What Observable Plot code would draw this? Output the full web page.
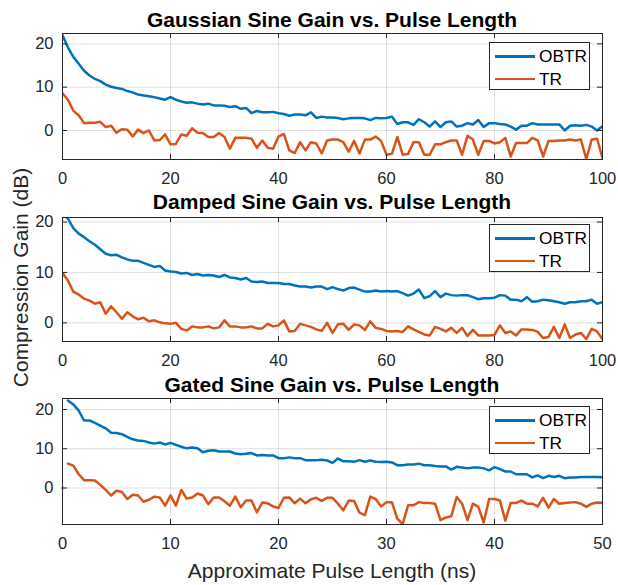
<!DOCTYPE html>
<html><head><meta charset="utf-8">
<script src="https://cdn.jsdelivr.net/npm/d3@7"></script>
<script src="https://cdn.jsdelivr.net/npm/@observablehq/plot@0.6"></script>
<style>
body{margin:0;background:#fff;font-family:"Liberation Sans",Arial,sans-serif;}
#chart{position:relative;width:618px;height:585px;overflow:hidden;background:#fff;}
#chart svg{position:absolute;left:0;}
.title{position:absolute;left:62px;width:540px;text-align:center;font-weight:bold;font-size:21px;line-height:21px;color:#000;white-space:nowrap;}
.axlabel{position:absolute;font-size:21px;line-height:21px;color:#262626;white-space:nowrap;text-align:center;}
.legend{position:absolute;background:#fff;border:1px solid #262626;box-sizing:border-box;}
.legend .swatch{position:absolute;left:5px;width:40px;height:2.5px;}
.legend .lab{position:absolute;left:49px;font-size:17.3px;line-height:17px;color:#000;white-space:nowrap;}
</style></head>
<body><div id="chart"></div>
<script>
// ---- data ----
const seriesNames = ["OBTR", "TR"];
const seriesColors = ["#0072BD", "#D95319"];
const panelTitles = ["Gaussian Sine Gain vs. Pulse Length", "Damped Sine Gain vs. Pulse Length", "Gated Sine Gain vs. Pulse Length"];
const xLabel = "Approximate Pulse Length (ns)";
const yLabel = "Compression Gain (dB)";
const xTicksLong = [0, 20, 40, 60, 80, 100];
const xTicksShort = [0, 10, 20, 30, 40, 50];
const yTicks = [0, 10, 20];

const pulseLenLong = [0,1,2,3,4,5,6,7,8,9,10,11,12,13,14,15,16,17,18,19,20,21,22,23,24,25,26,27,28,29,30,31,32,33,34,35,36,37,38,39,40,41,42,43,44,45,46,47,48,49,50,51,52,53,54,55,56,57,58,59,60,61,62,63,64,65,66,67,68,69,70,71,72,73,74,75,76,77,78,79,80,81,82,83,84,85,86,87,88,89,90,91,92,93,94,95,96,97,98,99,100];
const pulseLenShort = [0.5,1,1.5,2,2.5,3,3.5,4,4.5,5,5.5,6,6.5,7,7.5,8,8.5,9,9.5,10,10.5,11,11.5,12,12.5,13,13.5,14,14.5,15,15.5,16,16.5,17,17.5,18,18.5,19,19.5,20,20.5,21,21.5,22,22.5,23,23.5,24,24.5,25,25.5,26,26.5,27,27.5,28,28.5,29,29.5,30,30.5,31,31.5,32,32.5,33,33.5,34,34.5,35,35.5,36,36.5,37,37.5,38,38.5,39,39.5,40,40.5,41,41.5,42,42.5,43,43.5,44,44.5,45,45.5,46,46.5,47,47.5,48,48.5,49,49.5,50];

const gaussOBTR = [22.0,19.2,17.0,15.4,13.8,12.7,11.9,11.4,10.6,10.1,
9.8,9.6,9.1,8.8,8.3,8.1,7.9,7.7,7.4,7.1,
7.7,7.1,6.7,6.4,6.5,6.2,6.0,6.2,5.8,5.8,
5.7,5.4,5.6,5.0,5.2,4.0,4.5,4.2,4.2,4.3,
4.0,3.8,3.4,3.7,3.7,3.5,4.2,2.9,3.2,3.0,
3.0,2.9,2.6,2.8,2.9,2.9,2.8,2.4,2.9,2.8,
2.9,3.2,1.5,1.9,1.9,1.3,2.6,1.9,0.9,2.1,
0.8,1.9,2.1,0.9,1.1,1.7,1.4,2.4,0.8,1.7,
1.7,1.5,1.4,0.9,0.2,1.1,1.1,1.7,1.4,1.4,
1.4,1.4,1.4,0.0,1.1,1.2,1.1,1.3,0.9,0.0,1.0];
const gaussTR = [8.6,7.1,4.6,3.5,1.7,1.8,1.8,2.0,0.8,1.1,
-0.5,0.3,0.2,-1.4,0.2,-0.6,0.0,-2.3,-2.2,-0.9,
-3.2,-3.1,-0.9,-1.2,0.5,-0.5,-0.6,-1.5,-1.5,-0.6,
-1.5,-4.2,-1.7,-1.7,-1.7,-1.9,-4.0,-2.3,-4.0,-4.2,
-1.4,-0.8,-4.6,-5.2,-2.7,-4.6,-2.7,-3.0,-5.3,-2.3,
-2.1,-2.1,-2.7,-4.9,-2.4,-5.3,-2.1,-2.1,-1.4,-2.4,
-5.6,-5.4,-1.5,-5.6,-5.4,-2.7,-2.7,-5.6,-5.6,-3.2,
-3.2,-2.7,-2.3,-2.3,-5.6,-1.2,-2.1,-5.6,-2.4,-2.4,
-3.0,-2.7,-1.7,-6.0,-2.9,-2.9,-2.9,-1.7,-2.3,-6.0,
-2.4,-2.4,-2.3,-2.3,-2.1,-2.3,-2.1,-6.6,-2.1,-1.9,-6.4];

const dampedOBTR = [21.6,20.7,18.8,17.7,17.0,16.2,15.5,14.6,13.7,13.4,
13.5,13.0,12.6,12.3,12.3,11.9,11.5,11.1,11.3,10.4,
10.2,10.1,9.8,9.9,9.5,9.7,9.4,9.5,9.4,9.1,
9.5,9.0,8.9,8.6,8.9,8.2,8.1,8.2,7.9,7.9,
7.9,7.7,7.7,7.4,7.2,7.2,7.0,7.2,7.2,6.7,
7.1,6.7,6.4,6.9,7.0,6.6,6.2,6.2,6.4,6.2,
6.3,6.2,6.3,5.9,5.4,5.8,6.6,4.9,5.3,6.3,
5.1,5.8,5.5,5.4,5.5,5.5,5.1,4.7,4.9,4.9,
5.0,5.5,5.4,4.6,4.6,4.3,5.1,4.2,4.3,4.6,
4.5,4.3,4.1,3.8,4.1,4.1,4.3,4.3,4.6,3.8,4.1];
const dampedTR = [9.9,8.4,6.2,5.6,4.8,4.4,3.8,4.1,1.8,3.3,
2.1,0.8,2.1,1.3,0.7,1.0,0.3,0.5,0.1,-0.1,
-0.2,0.0,-1.2,-1.5,-0.7,-0.9,-0.9,-0.7,-1.1,-0.9,
0.5,-0.7,-0.7,-0.9,-0.9,-0.7,-1.1,-1.1,-0.2,-0.7,
-0.5,0.5,-1.7,-1.6,-0.2,-0.5,-0.8,-1.3,-1.6,0.0,
-2.0,-0.3,-0.2,-1.4,-0.3,-0.5,-1.4,0.3,-1.0,-1.2,
-1.6,-1.7,-1.6,-1.8,-0.7,-1.3,-1.8,-2.3,-2.5,-0.8,
-1.2,-1.7,-1.0,-2.0,-1.0,-2.6,-1.4,-2.5,-2.5,-2.5,
-2.4,-0.5,-2.0,-1.7,-2.5,-1.3,-1.3,-1.4,-1.8,-3.0,
-2.8,-0.8,-3.0,-0.3,-3.0,-2.3,-2.0,-3.2,-1.2,-1.7,-3.2];

const gatedOBTR = [22.3,21.3,19.7,17.2,17.2,16.6,15.9,15.2,14.1,14.0,
13.7,13.0,12.4,12.1,12.0,11.6,11.3,11.6,11.1,11.5,
11.0,10.5,10.1,10.3,10.1,9.1,9.5,9.6,9.3,9.3,
9.3,8.8,8.6,8.7,8.9,8.3,8.4,8.3,8.3,7.6,
7.6,7.8,7.6,7.6,7.1,7.1,7.1,7.2,7.0,6.4,
7.5,6.8,6.8,6.7,7.1,6.7,7.0,6.7,6.6,6.7,
6.5,5.8,5.8,6.0,6.0,6.2,5.8,5.8,5.6,5.5,
5.5,4.7,5.4,5.2,5.0,5.2,5.2,5.0,4.5,5.3,
4.8,4.2,4.2,3.5,3.5,3.5,2.7,3.2,2.5,3.1,
2.8,3.1,2.5,2.7,2.7,2.8,2.8,2.8,2.8,2.7];
const gatedTR = [6.2,5.7,3.5,2.0,2.0,1.9,0.8,-0.5,-1.9,-0.7,
-1.0,-2.8,-1.7,-1.9,-3.5,-3.0,-2.2,-2.4,-4.5,-1.9,
-4.5,-0.5,-2.7,-2.4,-1.4,-1.9,-4.1,-2.4,-2.4,-3.4,
-4.5,-2.2,-4.9,-3.2,-3.2,-6.2,-3.7,-3.9,-4.7,-5.1,
-2.5,-2.4,-3.9,-2.7,-3.9,-2.9,-2.5,-3.3,-2.5,-2.5,
-4.0,-5.7,-3.2,-3.3,-6.3,-6.9,-2.2,-2.8,-4.7,-3.6,
-3.6,-7.8,-9.2,-4.4,-4.4,-3.6,-3.8,-3.8,-4.0,-8.2,
-7.5,-7.2,-2.3,-4.0,-8.2,-4.0,-4.8,-8.8,-2.8,-2.8,
-3.2,-8.3,-3.8,-3.8,-3.2,-4.0,-4.0,-4.7,-2.5,-5.0,
-2.8,-4.0,-3.8,-3.7,-3.6,-4.0,-4.8,-4.0,-3.7,-3.8];
// stray third-series point at the origin of the gated panel
const gatedExtraX = [0];
const gatedExtraY = [0];

// ---- layout ----
const W = 618, mL = 62, mR = 16;
const panels = [
  {title: panelTitles[0], titleTop: 9, svgTop: 0, height: 185, mT: 33, mB: 26,
   x: pulseLenLong, ys: [gaussOBTR, gaussTR], xDomain: [0, 100], xTicks: xTicksLong, yDomain: [-6.7, 22.4], legendTop: 42},
  {title: panelTitles[1], titleTop: 191, svgTop: 185, height: 185, mT: 32, mB: 29,
   x: pulseLenLong, ys: [dampedOBTR, dampedTR], xDomain: [0, 100], xTicks: xTicksLong, yDomain: [-3.7, 20.9], legendTop: 224},
  {title: panelTitles[2], titleTop: 374, svgTop: 370, height: 215, mT: 28, mB: 61,
   x: pulseLenShort, ys: [gatedOBTR, gatedTR], xDomain: [0, 50], xTicks: xTicksShort, yDomain: [-9.3, 22.8], legendTop: 406,
   extra: {x: gatedExtraX, y: gatedExtraY}}
];

const chart = document.getElementById("chart");
const axisColor = "#262626";

panels.forEach(p => {
  const innerH = p.height - p.mT - p.mB;
  const innerW = W - mL - mR;
  const rows = [];
  p.ys.forEach((arr, si) => arr.forEach((v, i) => rows.push({x: p.x[i], y: v, s: seriesNames[si]})));
  const marks = [
    Plot.gridX(p.xTicks, {stroke: axisColor, strokeOpacity: 0.15, strokeWidth: 1}),
    Plot.gridY(yTicks, {stroke: axisColor, strokeOpacity: 0.15, strokeWidth: 1}),
    Plot.lineY(rows, {x: "x", y: "y", z: "s", stroke: "s", strokeWidth: 2.5, clip: true, strokeLinejoin: "round"}),
  ];
  if (p.extra) {
    marks.push(Plot.dot(p.extra.x.map((v, i) => ({x: v, y: p.extra.y[i]})), {x: "x", y: "y", r: 1.8, fill: "#EDB120", stroke: null}));
  }
  marks.push(
    // inward ticks on all four sides (box on)
    Plot.ruleX(p.xTicks, {x: d => d, insetTop: innerH - 5, stroke: axisColor}),
    Plot.ruleX(p.xTicks, {x: d => d, insetBottom: innerH - 5, stroke: axisColor}),
    Plot.ruleY(yTicks, {y: d => d, insetRight: innerW - 5, stroke: axisColor}),
    Plot.ruleY(yTicks, {y: d => d, insetLeft: innerW - 5, stroke: axisColor}),
    Plot.frame({stroke: axisColor, strokeWidth: 1}),
    Plot.axisX(p.xTicks, {anchor: "bottom", tickSize: 0, tickPadding: 13, label: null, fontSize: 16.5, fill: axisColor}),
    Plot.axisY(yTicks, {anchor: "left", tickSize: 0, tickPadding: 9, label: null, fontSize: 16.5, fill: axisColor})
  );
  const svg = Plot.plot({
    width: W, height: p.height,
    marginLeft: mL, marginRight: mR, marginTop: p.mT, marginBottom: p.mB,
    x: {domain: p.xDomain},
    y: {domain: p.yDomain},
    color: {domain: seriesNames, range: seriesColors},
    style: {fontFamily: "'Liberation Sans', Arial, sans-serif", color: axisColor, background: "transparent", overflow: "visible"},
    marks
  });
  svg.style.top = p.svgTop + "px";
  chart.appendChild(svg);

  const t = document.createElement("div");
  t.className = "title";
  t.style.top = p.titleTop + "px";
  t.textContent = p.title;
  chart.appendChild(t);

  const lg = document.createElement("div");
  lg.className = "legend";
  lg.style.left = "489px";
  lg.style.top = p.legendTop + "px";
  lg.style.width = "101px";
  lg.style.height = "48px";
  seriesNames.forEach((name, si) => {
    const cy = 13.5 + si * 22.5;
    const sw = document.createElement("div");
    sw.className = "swatch";
    sw.style.top = (cy - 1.25) + "px";
    sw.style.background = seriesColors[si];
    lg.appendChild(sw);
    const lab = document.createElement("div");
    lab.className = "lab";
    lab.style.top = (cy - 8.5) + "px";
    lab.textContent = name;
    lg.appendChild(lab);
  });
  chart.appendChild(lg);
});

const xl = document.createElement("div");
xl.className = "axlabel";
xl.style.left = (332 - 200) + "px";
xl.style.width = "400px";
xl.style.top = "560px";
xl.textContent = xLabel;
chart.appendChild(xl);

const yl = document.createElement("div");
yl.className = "axlabel";
yl.style.left = (19.5 - 150) + "px";
yl.style.width = "300px";
yl.style.top = (277 - 10.5) + "px";
yl.style.transform = "rotate(-90deg)";
yl.style.transformOrigin = "50% 50%";
yl.textContent = yLabel;
chart.appendChild(yl);
</script>
</body></html>
